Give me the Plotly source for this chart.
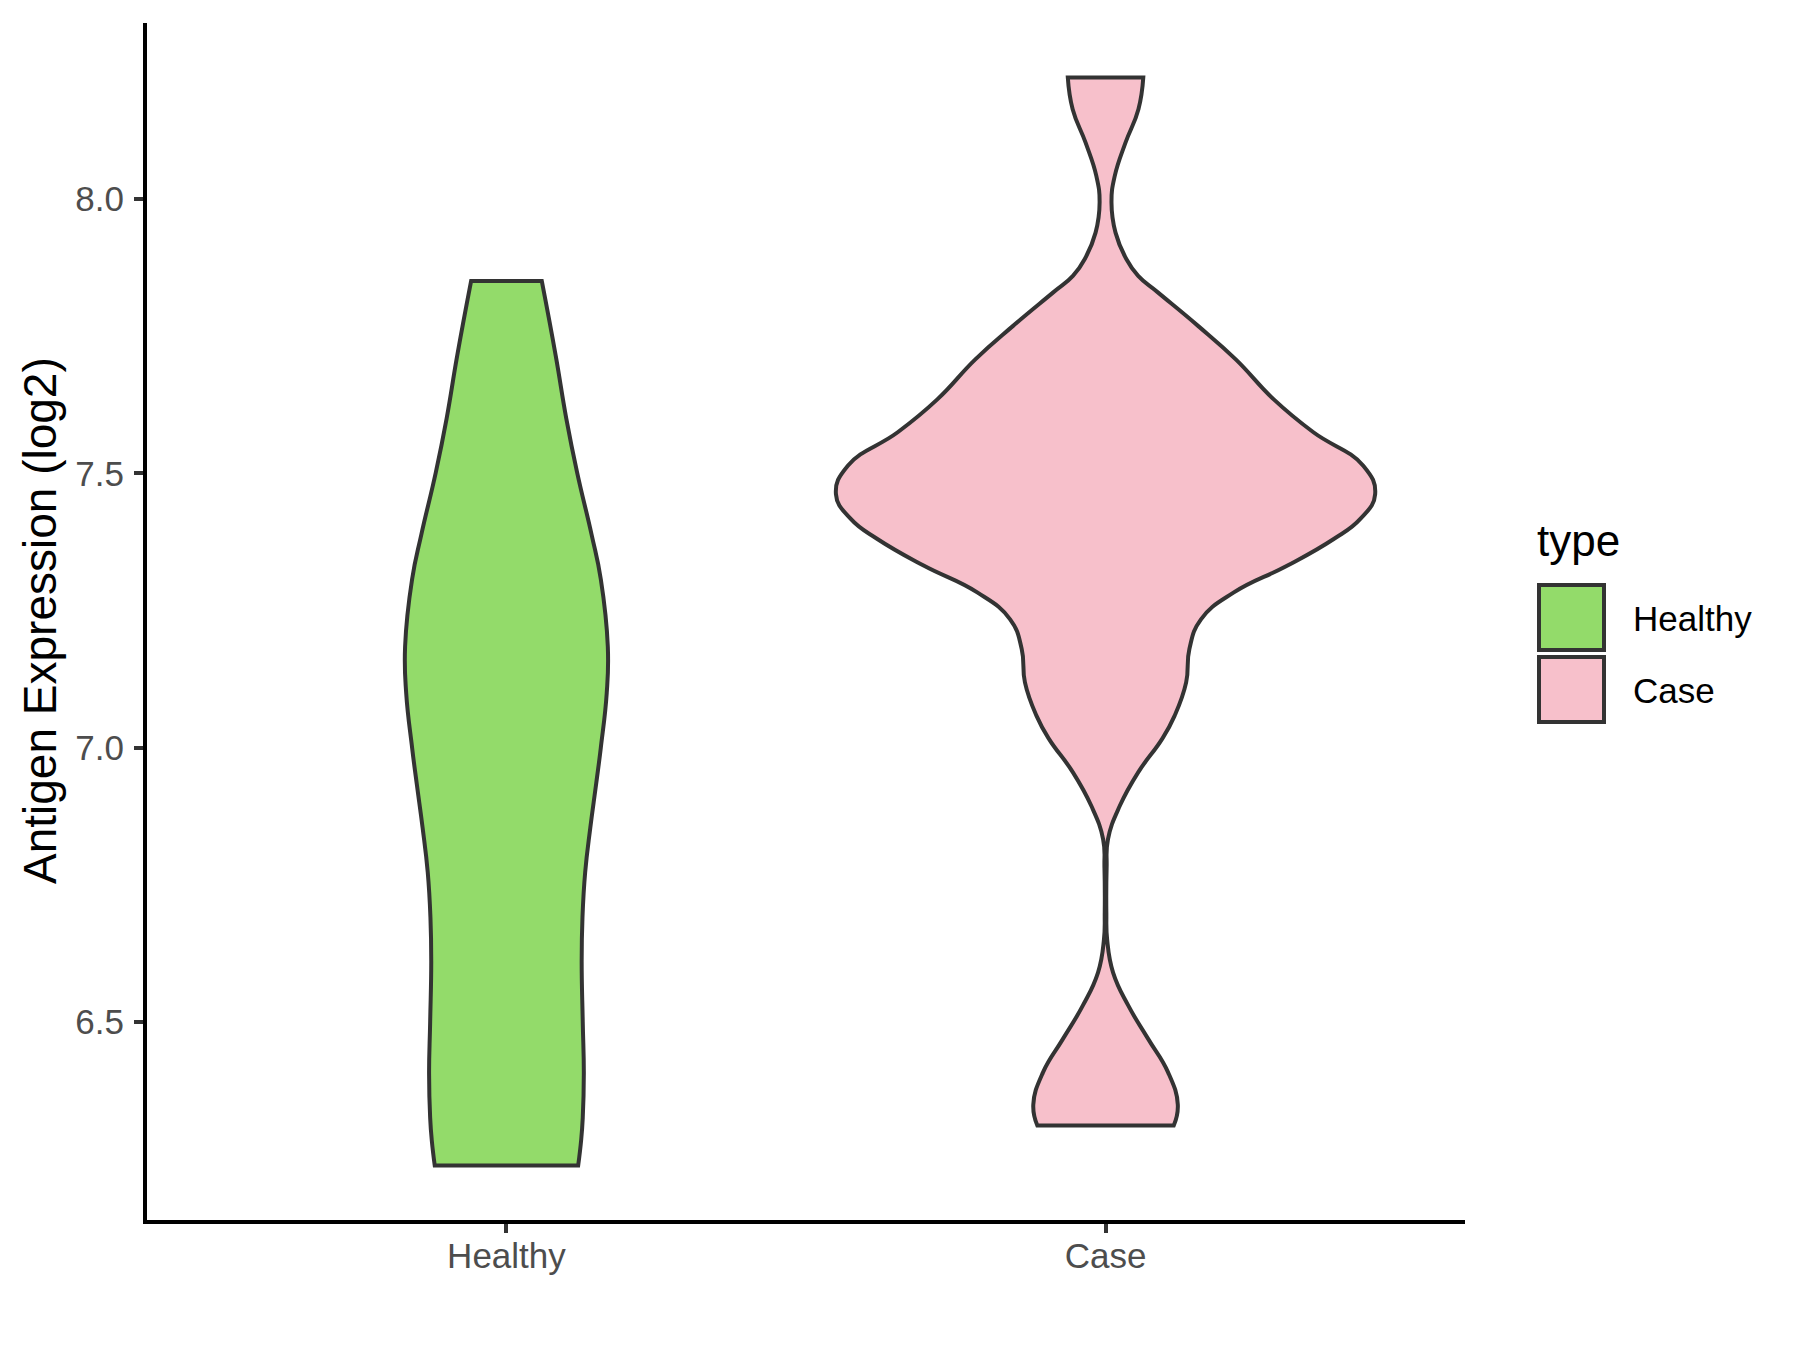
import plotly.graph_objects as go

# ---------------- data ----------------
categories = ["Healthy", "Case"]
fill_colors = ["#93DB6A", "#F7C0CB"]

# y grid (log2 expression, ascending) and relative violin density (max = 1)
healthy_y = [6.238, 6.284, 6.325, 6.406, 6.500, 6.610, 6.691, 6.773, 6.854,
             6.935, 7.000, 7.100, 7.184, 7.307, 7.388, 7.502, 7.600, 7.714, 7.851]
healthy_density = [0.266, 0.277, 0.283, 0.287, 0.283, 0.279, 0.282, 0.292, 0.311,
                   0.333, 0.350, 0.372, 0.376, 0.350, 0.316, 0.262, 0.222, 0.183, 0.131]

case_y = [6.311, 6.349, 6.408, 6.469, 6.530, 6.590, 6.650, 6.700, 6.780, 6.833,
          6.894, 6.955, 7.016, 7.058, 7.119, 7.180, 7.234, 7.283, 7.332, 7.380,
          7.417, 7.462, 7.514, 7.575, 7.635, 7.708, 7.769, 7.830, 7.860, 7.891,
          7.939, 7.994, 8.042, 8.103, 8.164, 8.222]
case_density = [0.253, 0.268, 0.232, 0.158, 0.084, 0.028, 0.006, 0.003, 0.004, 0.009,
                0.053, 0.121, 0.210, 0.256, 0.299, 0.311, 0.354, 0.476, 0.675, 0.845,
                0.945, 1.000, 0.956, 0.771, 0.624, 0.483, 0.343, 0.194, 0.121, 0.077,
                0.037, 0.022, 0.034, 0.074, 0.122, 0.140]

y_tick_values = [6.5, 7.0, 7.5, 8.0]
y_tick_labels = ["6.5", "7.0", "7.5", "8.0"]

# ---------------- layout geometry (page pixels) ----------------
OFF = 8                                # default body margin of the html page
W, H = 1800 - 2 * OFF, 1350 - 2 * OFF
PL, PR, PT, PB = 147, 1465, 23, 1220   # plot area in page pixels
MAX_HALF = 0.45                        # ggplot violin width 0.9
FONT = "Liberation Sans, Arial, sans-serif"


def px_x(px):
    return (px - PL) / (PR - PL)


def px_y(py):
    return (PB - py) / (PB - PT)


def outline(center, ys, dens):
    hw = [MAX_HALF * d for d in dens]
    n = len(ys)
    L = [(center - hw[i], ys[i]) for i in range(n)]
    R = [(center + hw[i], ys[i]) for i in range(n)]
    pts = [L[0]] + L + [L[-1], R[-1]] + R[::-1] + [R[0], L[0]]
    return [p[0] for p in pts], [p[1] for p in pts]


all_y = healthy_y + case_y
span = max(all_y) - min(all_y)
y_range = [min(all_y) - 0.05 * span, max(all_y) + 0.05 * span]

fig = go.Figure()
for i, (ys, dens) in enumerate([(healthy_y, healthy_density), (case_y, case_density)]):
    xs, yy = outline(i + 1, ys, dens)
    fig.add_trace(go.Scatter(
        x=xs, y=yy, mode="lines", fill="toself", fillcolor=fill_colors[i],
        line=dict(color="#333333", width=4, shape="spline", smoothing=1.3, simplify=False),
        name=categories[i], showlegend=False, hoverinfo="skip"))

axis_common = dict(showline=True, linecolor="black", linewidth=4, ticks="outside",
                   ticklen=9, tickwidth=4, tickcolor="#333333", showgrid=False,
                   zeroline=False, tickfont=dict(family=FONT, size=35, color="#4D4D4D"))

fig.update_xaxes(range=[0.4, 2.6], tickvals=[1, 2], ticktext=categories,
                 ticklabelstandoff=-7, **axis_common)
fig.update_yaxes(range=y_range, tickvals=y_tick_values, ticktext=y_tick_labels,
                 ticklabelstandoff=3, **axis_common)

annotations = [
    dict(text="Antigen Expression (log2)", textangle=-90, x=px_x(40), y=px_y(621),
         xref="paper", yref="paper", xanchor="center", yanchor="middle", showarrow=False,
         font=dict(family=FONT, size=46, color="black")),
    dict(text="type", x=px_x(1535), y=px_y(540), xref="paper", yref="paper",
         xanchor="left", yanchor="middle", showarrow=False,
         font=dict(family=FONT, size=44, color="black")),
]
shapes = []
key_tops = [585, 657]
for i, cat in enumerate(categories):
    y0 = key_tops[i]
    shapes.append(dict(type="rect", xref="paper", yref="paper",
                       x0=px_x(1539), x1=px_x(1604), y0=px_y(y0), y1=px_y(y0 + 65),
                       fillcolor=fill_colors[i], line=dict(color="#333333", width=4)))
    annotations.append(dict(text=cat, x=px_x(1631), y=px_y(y0 + 33), xref="paper", yref="paper",
                            xanchor="left", yanchor="middle", showarrow=False,
                            font=dict(family=FONT, size=35, color="black")))

fig.update_layout(width=W, height=H, paper_bgcolor="white", plot_bgcolor="white",
                  margin=dict(l=PL - OFF, r=W - (PR - OFF), t=PT - OFF, b=H - (PB - OFF), pad=0),
                  showlegend=False, annotations=annotations, shapes=shapes,
                  font=dict(family=FONT))

fig.write_html("out.html")
